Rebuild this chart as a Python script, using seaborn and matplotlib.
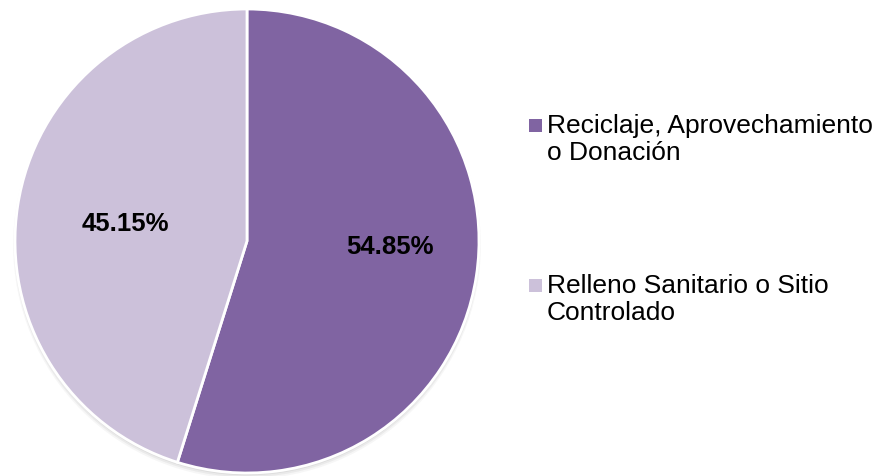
import matplotlib
matplotlib.use("Agg")
import matplotlib.pyplot as plt
from matplotlib.patches import Circle, Rectangle
import seaborn as sns

categories = ["Reciclaje, Aprovechamiento\no Donación", "Relleno Sanitario o Sitio\nControlado"]
values = [54.85, 45.15]
labels = ["54.85%", "45.15%"]
colors = ["#8064A2", "#CCC1DA"]

sns.set_theme(style="white")
plt.rcParams['font.family'] = ['Liberation Sans', 'DejaVu Sans']

W, H = 883, 476
fig = plt.figure(figsize=(W / 100, H / 100), dpi=100)
cx, cy, r = 247, 241, 232
ax = fig.add_axes([(cx - r) / W, (H - cy - r) / H, 2 * r / W, 2 * r / H])
ax.set_aspect('equal')

# soft shadow
for i, a in enumerate([0.05, 0.07, 0.09]):
    ax.add_patch(Circle((0, -0.010 - 0.004 * (2 - i)), 1.0 + 0.004 * (2 - i), color='#555555',
                        alpha=a, zorder=0, lw=0, clip_on=False))

wedges, texts = ax.pie(values, colors=colors, startangle=90, counterclock=False,
                       wedgeprops=dict(edgecolor='white', linewidth=2), radius=1.0)
for w in wedges:
    w.set_zorder(2)
    w.set_clip_on(False)

def to_data(px, py):
    return (px - cx) / r, (cy - py) / r

ax.text(*to_data(390, 247), labels[0], ha='center', va='center', fontsize=18.5,
        fontweight='bold', color='black', zorder=3)
ax.text(*to_data(125.5, 224), labels[1], ha='center', va='center', fontsize=18.5,
        fontweight='bold', color='black', zorder=3)
ax.set_xlim(-1.0, 1.0)
ax.set_ylim(-1.0, 1.0)
ax.axis('off')

# legend (manual, square marker aligned with first line)
leg_y = [125, 285]
for lab, col, y in zip(categories, colors, leg_y):
    fig.patches.append(Rectangle((529 / W, 1 - (y + 6.5) / H), 13 / W, 13 / H,
                                 transform=fig.transFigure, facecolor=col, edgecolor='none'))
    fig.text(547 / W, 1 - (y - 11) / H, lab, ha='left', va='top', fontsize=19,
             color='black', linespacing=1.18)

fig.savefig("out.png", dpi=100)
